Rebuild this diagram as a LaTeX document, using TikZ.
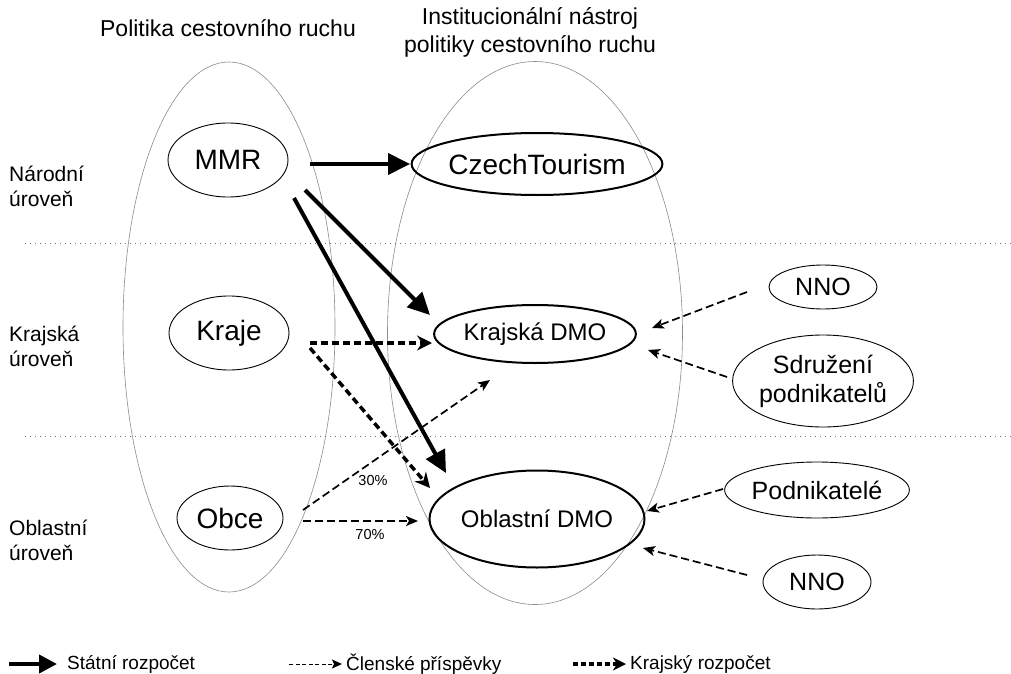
\documentclass[tikz,border=0pt]{standalone}
\usepackage{fontspec}
\setmainfont{Liberation Sans}
\usetikzlibrary{arrows.meta,shapes.geometric,calc}
\begin{document}
\begin{tikzpicture}[x=1pt,y=-1pt,
  big/.style={ellipse,draw=black!45,line width=0.6pt,inner sep=0pt},
  org/.style={ellipse,draw=black,line width=0.9pt,inner sep=0pt,align=center},
  orgb/.style={org,line width=2pt},
  fbig/.style={font=\fontsize{28}{30}\selectfont},
  fdmo/.style={font=\fontsize{24}{26}\selectfont},
  fside/.style={font=\fontsize{25}{29}\selectfont},
  lvl/.style={font=\fontsize{21}{25}\selectfont,align=left,anchor=west,inner sep=0pt},
  hdr/.style={font=\fontsize{23}{28}\selectfont,align=center,inner sep=0pt},
  lgd/.style={font=\fontsize{19}{22}\selectfont,anchor=west,inner sep=0pt},
  pct/.style={font=\fontsize{14.5}{16}\selectfont,inner sep=0pt},
  statearr/.style={line width=4pt,-{Triangle[length=22pt,width=21pt]}},
  memarr/.style={line width=1.7pt,dash pattern=on 8pt off 4pt,-{Stealth[length=12pt,width=10pt,inset=3pt]}},
  regarr/.style={line width=3.5pt,dash pattern=on 7pt off 4pt,-{Stealth[length=15pt,width=15pt,inset=5pt]}},
  lvlline/.style={draw=black!55,line width=0.8pt,dash pattern=on 1pt off 4pt}]
\useasboundingbox (0,0) rectangle (1011,674);
\fill[white] (0,0) rectangle (1011,674);

% big ellipses
\node[big,minimum width=212pt,minimum height=530pt] (pol) at (229,327) {};
\node[big,minimum width=295pt,minimum height=543pt] (inst) at (535,333) {};

% level separators
\coordinate (l1a) at (25,243);
\coordinate (l1b) at (1011,243);
\coordinate (l2a) at (25,436);
\coordinate (l2b) at (1011,436);
\draw[lvlline] (l1a) -- (l1b);
\draw[lvlline] (l2a) -- (l2b);

% headers
\node[hdr] (h1) at (228,28) {Politika cestovního ruchu};
\node[hdr] (h2) at (530,32) {Institucionální nástroj\\politiky cestovního ruchu};

% level labels
\node[lvl] (n1) at (9,186) {Národní\\úroveň};
\node[lvl] (n2) at (9,346) {Krajská\\úroveň};
\node[lvl] (n3) at (9,540) {Oblastní\\úroveň};

% nodes
\node[org,fbig,minimum width=120pt,minimum height=74pt] (mmr) at (228,160) {MMR};
\node[org,fbig,minimum width=120pt,minimum height=74pt] (kraje) at (229,333) {Kraje};
\node[org,fbig,minimum width=106pt,minimum height=64pt] (obce) at (230,518) {Obce};
\node[orgb,fbig,minimum width=224pt,minimum height=62pt] (czt) at (537,164) {CzechTourism};
\node[orgb,fdmo,minimum width=188pt,minimum height=58pt] (kdmo) at (535,334) {Krajská DMO};
\node[orgb,fdmo,minimum width=200pt,minimum height=97pt] (odmo) at (537,519) {Oblastní DMO};
\node[org,fside,minimum width=108pt,minimum height=44pt] (nno1) at (823,287) {NNO};
\node[org,fside,minimum width=170pt,minimum height=92pt] (sdr) at (823,381) {Sdružení\\podnikatelů};
\node[org,fside,minimum width=166pt,minimum height=56pt] (pod) at (817,490) {Podnikatelé};
\node[org,fside,minimum width=108pt,minimum height=54pt] (nno2) at (817,582) {NNO};

% state budget
\draw[statearr] ($(mmr.center)+(82,4)$) -- ($(czt.center)+(-127,0)$);
\draw[statearr] ($(mmr.center)+(77,30)$) -- ($(kdmo.center)+(-105,-19)$);
\draw[statearr] ($(mmr.center)+(66,38)$) -- ($(odmo.center)+(-91,-46)$);

% regional budget
\draw[regarr] ($(kraje.center)+(81,10)$) -- ($(kdmo.center)+(-103,9)$);
\draw[regarr] ($(kraje.center)+(81,15)$) -- ($(odmo.center)+(-107,-31)$);

% membership fees
\draw[memarr] ($(obce.center)+(73,-8)$) -- ($(kdmo.center)+(-45,46)$);
\draw[memarr] ($(obce.center)+(73,3)$) -- ($(odmo.center)+(-119,2)$);
\draw[memarr] ($(nno1.center)+(-76,5)$) -- ($(kdmo.center)+(117,-6)$);
\draw[memarr] ($(sdr.center)+(-96,-4)$) -- ($(kdmo.center)+(113,16)$);
\draw[memarr] ($(pod.center)+(-94,-1)$) -- ($(odmo.center)+(110,-8)$);
\draw[memarr] ($(nno2.center)+(-70,-7)$) -- ($(odmo.center)+(106,29)$);

\node[pct] (p30) at (373,481) {30\%};
\node[pct] (p70) at (370,535) {70\%};

% legend
\coordinate (la1) at (9,664);
\coordinate (la2) at (57,664);
\draw[statearr,-{Triangle[length=18pt,width=18pt]}] (la1) -- (la2);
\node[lgd] (lt1) at (67,664) {Státní rozpočet};
\coordinate (lb1) at (289,664);
\coordinate (lb2) at (342,664);
\draw[line width=1pt,dash pattern=on 4pt off 2.5pt,-{Stealth[length=10pt,width=9pt,inset=2pt]}] (lb1) -- (lb2);
\node[lgd] (lt2) at (346,664) {Členské příspěvky};
\coordinate (lc1) at (573,664);
\coordinate (lc2) at (626,664);
\draw[line width=3.5pt,dash pattern=on 5pt off 3pt,-{Stealth[length=13pt,width=13pt,inset=4pt]}] (lc1) -- (lc2);
\node[lgd] (lt3) at (630,664) {Krajský rozpočet};
\end{tikzpicture}
\end{document}
